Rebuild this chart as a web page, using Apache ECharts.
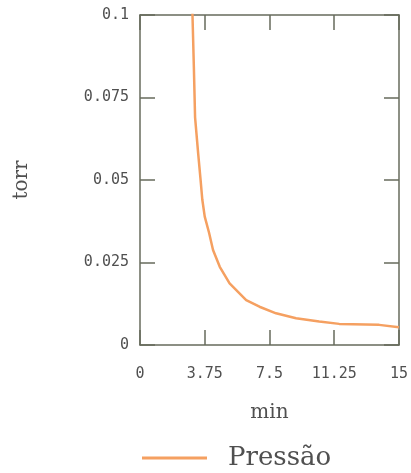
<!DOCTYPE html>
<html><head><meta charset="utf-8">
<script src="https://cdn.jsdelivr.net/npm/echarts@6/dist/echarts.min.js"></script>
<style>html,body{margin:0;padding:0;background:#fff}#c{width:411px;height:473px}</style>
</head><body><div id="c"></div>
<script>
const timeMin = [3.0, 3.04, 3.12, 3.19, 3.37, 3.5, 3.61, 3.75, 4.0, 4.23, 4.62, 5.19, 6.15, 6.92, 7.88, 9.04, 10.38, 11.54, 13.85, 15.0];
const pressureTorr = [0.11, 0.1, 0.0842, 0.069, 0.058, 0.0506, 0.044, 0.0389, 0.034, 0.0288, 0.0237, 0.0187, 0.0136, 0.0116, 0.0096, 0.0081, 0.0071, 0.0064, 0.0061, 0.0054];
const xTicks = [0, 3.75, 7.5, 11.25, 15];
const yTicks = [0, 0.025, 0.05, 0.075, 0.1];
const seriesName = 'Pressão';

const axisColor = '#676b5c';
const textColor = '#505050';
const chart = echarts.init(document.getElementById('c'), null, {renderer:'canvas'});
const axisLine = {show:true, onZero:false, lineStyle:{color: axisColor, width: 1.5}};
const tickCommon = {show:true, inside:true, length:15, lineStyle:{color:axisColor, width:1.5}};
const tickFont = {fontFamily:'DejaVu Sans Mono', fontSize:15, color:textColor};
chart.setOption({
  animation:false,
  grid:{left:140, top:15, right:11, bottom:128, containLabel:false},
  legend:{
    data:[{name:seriesName, icon:'rect'}],
    left:137, top:440, itemWidth:65, itemHeight:3, itemGap:10,
    textStyle:{fontFamily:'DejaVu Serif', fontSize:26, color:textColor, padding:[0,0,0,16]}
  },
  xAxis:[{
    type:'value', min:xTicks[0], max:xTicks[xTicks.length-1], interval:3.75, position:'bottom',
    name:'min', nameLocation:'middle', nameGap:58,
    nameTextStyle:{fontFamily:'DejaVu Serif', fontSize:20, color:textColor},
    axisLine, axisTick:tickCommon, splitLine:{show:false},
    axisLabel:Object.assign({margin:22}, tickFont)
  },{
    type:'value', min:xTicks[0], max:xTicks[xTicks.length-1], interval:3.75, position:'top',
    axisLine, axisTick:tickCommon, splitLine:{show:false},
    axisLabel:{show:false}
  }],
  yAxis:[{
    type:'value', min:yTicks[0], max:yTicks[yTicks.length-1], interval:0.025, position:'left',
    name:'torr', nameLocation:'middle', nameGap:108,
    nameTextStyle:{fontFamily:'DejaVu Serif', fontSize:20, color:textColor},
    axisLine, axisTick:tickCommon, splitLine:{show:false},
    axisLabel:Object.assign({margin:11}, tickFont)
  },{
    type:'value', min:yTicks[0], max:yTicks[yTicks.length-1], interval:0.025, position:'right',
    axisLine, axisTick:tickCommon, splitLine:{show:false},
    axisLabel:{show:false}
  }],
  series:[{
    name:seriesName, type:'line', xAxisIndex:0, yAxisIndex:0,
    data: timeMin.map((t,i)=>[t, pressureTorr[i]]),
    showSymbol:false, clip:true,
    lineStyle:{color:'#f5a061', width:2.5}, itemStyle:{color:'#f5a061'}
  }]
});
</script></body></html>
